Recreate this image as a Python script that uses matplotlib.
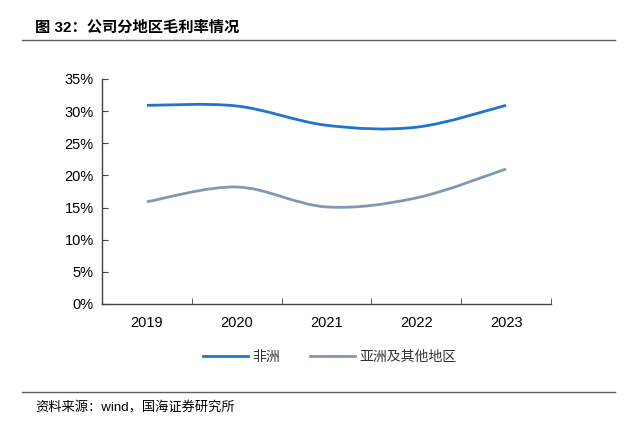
import numpy as np
import matplotlib
matplotlib.use('Agg')
import matplotlib.pyplot as plt
from matplotlib.path import Path
from matplotlib.patches import PathPatch
from matplotlib.lines import Line2D

plt.rcParams['font.family'] = ['Liberation Sans', 'Noto Sans CJK SC', 'DejaVu Sans']

# data
years = ['2019', '2020', '2021', '2022', '2023']
africa = [30.9, 30.8, 27.8, 27.5, 30.9]
asia_other = [15.9, 18.2, 15.1, 16.5, 21.0]
series_names = ['非洲', '亚洲及其他地区']
colors = ['#1f74d0', '#8497b0']


def smooth_path(xs, ys):
    # excel-like smoothed line, bezier through the points
    pts = np.column_stack([xs, ys]).astype(float)
    n = len(pts)
    verts = [pts[0]]
    codes = [Path.MOVETO]
    for i in range(n - 1):
        p0 = pts[i - 1] if i > 0 else pts[i]
        p1 = pts[i]
        p2 = pts[i + 1]
        p3 = pts[i + 2] if i + 2 < n else pts[i + 1]
        c1 = p1 + (p2 - p0) / 6.0
        c2 = p2 - (p3 - p1) / 6.0
        verts += [c1, c2, p2]
        codes += [Path.CURVE4] * 3
    return Path(verts, codes)


fig = plt.figure(figsize=(6.28, 4.26), dpi=100)
ax = fig.add_axes([0.1624, 0.2864, 0.7150, 0.5282])

x = np.arange(len(years))
for vals, c in zip([africa, asia_other], colors):
    patch = PathPatch(smooth_path(x, vals), facecolor='none', edgecolor=c,
                      lw=2.0, capstyle='butt')
    ax.add_patch(patch)

ax.set_xlim(-0.5, len(years) - 0.5)
ax.set_ylim(0, 35)
ax.set_yticks(np.arange(0, 36, 5))
ax.set_yticklabels(['%d%%' % v for v in range(0, 36, 5)], fontsize=10.5)
ax.set_xticks(x)
ax.set_xticklabels(years, fontsize=10.5)
ax.set_xticks(np.arange(-0.5, len(years)), minor=True)
ax.tick_params(axis='x', which='major', length=0, pad=9)
ax.tick_params(axis='x', which='minor', length=4, direction='in', color='#404040')
ax.tick_params(axis='y', length=4, direction='in', color='#404040', pad=6)

for s in ['top', 'right']:
    ax.spines[s].set_visible(False)
for s in ['left', 'bottom']:
    ax.spines[s].set_color('#404040')
    ax.spines[s].set_linewidth(1.0)

handles = [Line2D([], [], color=c, lw=2.0) for c in colors]
leg = fig.legend(handles, series_names, loc='center', bbox_to_anchor=(0.525, 0.162),
                 ncol=2, frameon=False, fontsize=10, handlelength=3.2,
                 handletextpad=0.3, columnspacing=2.2)
for t in leg.get_texts():
    t.set_color('#333333')

# title, rules, source
fig.text(0.056, 0.936, '图 32：公司分地区毛利率情况', fontsize=11, fontweight='bold',
         va='center', ha='left')
fig.add_artist(Line2D([0.035, 0.98], [0.906, 0.906], color='#606060', lw=1.0))
fig.add_artist(Line2D([0.035, 0.98], [0.080, 0.080], color='#606060', lw=1.0))
fig.text(0.056, 0.042, '资料来源：wind，国海证券研究所', fontsize=9.5, va='center', ha='left')

fig.savefig('out.png', dpi=100)
